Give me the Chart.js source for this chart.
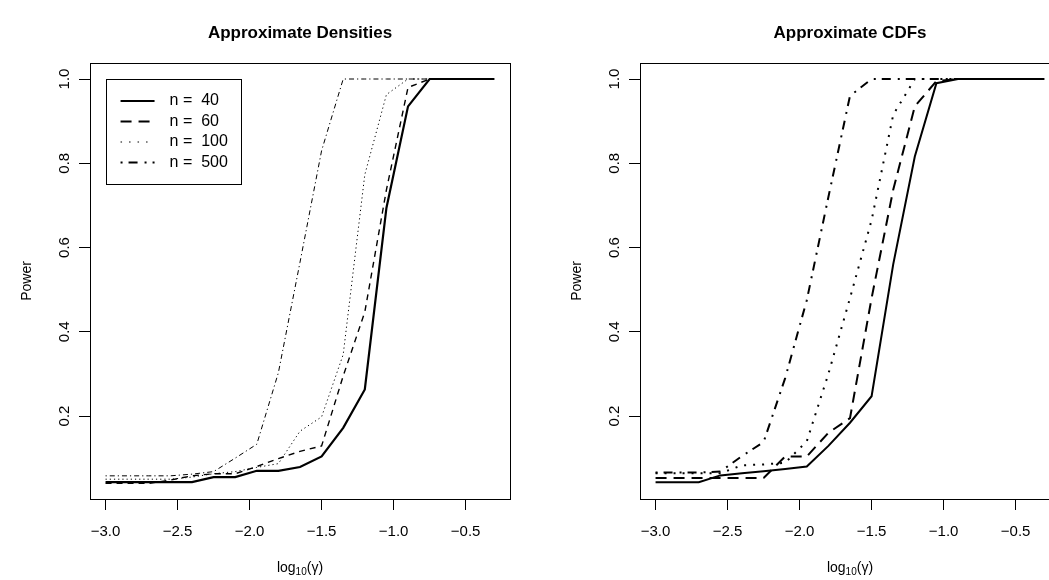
<!DOCTYPE html>
<html>
<head>
<meta charset="utf-8">
<script src="https://cdn.jsdelivr.net/npm/chart.js@4.4.1/dist/chart.umd.min.js"></script>
<style>
  html, body { margin: 0; padding: 0; background: #fff; overflow: hidden; }
  body { width: 1049px; height: 580px; position: relative; }
  .panel { position: absolute; top: 0; width: 550px; height: 580px; }
  #izq { left: 0; }
  #der { left: 550px; }
</style>
</head>
<body>
<div class="panel" id="izq"><canvas id="densidades" width="550" height="580"></canvas></div>
<div class="panel" id="der"><canvas id="cdfs" width="550" height="580"></canvas></div>
<script>
// log10(gamma) grid shared by both panels
const logGamma = [-3, -2.85, -2.7, -2.55, -2.4, -2.25, -2.1, -1.95, -1.8, -1.65,
                  -1.5, -1.35, -1.2, -1.05, -0.9, -0.75, -0.6, -0.45, -0.3];
const xTicks = [-3, -2.5, -2, -1.5, -1, -0.5];
const yTicks = [0.2, 0.4, 0.6, 0.8, 1.0];
const sampleSizes = [40, 60, 100, 500];

// power, approximate densities
const densN40  = [0.043, 0.043, 0.043, 0.043, 0.043, 0.055, 0.055, 0.070, 0.070, 0.079, 0.104, 0.172, 0.263, 0.694, 0.935, 1, 1, 1, 1];
const densN60  = [0.040, 0.040, 0.040, 0.048, 0.058, 0.063, 0.063, 0.080, 0.099, 0.116, 0.129, 0.295, 0.447, 0.737, 0.980, 1, 1, 1, 1];
const densN100 = [0.050, 0.050, 0.050, 0.050, 0.055, 0.063, 0.068, 0.078, 0.087, 0.164, 0.198, 0.346, 0.773, 0.963, 1, 1, 1, 1, 1];
const densN500 = [0.058, 0.058, 0.058, 0.058, 0.062, 0.068, 0.100, 0.133, 0.303, 0.565, 0.830, 1, 1, 1, 1, 1, 1, 1, 1];

// power, approximate CDFs
const cdfN40  = [0.043, 0.043, 0.043, 0.059, 0.064, 0.069, 0.074, 0.080, 0.129, 0.184, 0.247, 0.560, 0.816, 0.990, 1, 1, 1, 1, 1];
const cdfN60  = [0.053, 0.053, 0.053, 0.053, 0.053, 0.053, 0.104, 0.104, 0.160, 0.195, 0.480, 0.737, 0.935, 0.995, 1, 1, 1, 1, 1];
const cdfN100 = [0.064, 0.064, 0.064, 0.064, 0.083, 0.085, 0.089, 0.140, 0.300, 0.480, 0.665, 0.915, 1, 1, 1, 1, 1, 1, 1];
const cdfN500 = [0.066, 0.066, 0.066, 0.068, 0.105, 0.138, 0.290, 0.475, 0.720, 0.960, 1, 1, 1, 1, 1, 1, 1, 1, 1];

const FUENTE = '"Liberation Sans", Arial, Helvetica, sans-serif';

function puntos(valores) {
  return logGamma.map((x, i) => ({ x: x, y: valores[i] }));
}

function serie(valores, n, ancho, guiones) {
  return {
    label: 'n =  ' + n,
    data: puntos(valores),
    borderColor: '#000',
    borderWidth: ancho,
    borderDash: guiones,
    pointRadius: 0,
    tension: 0,
    fill: false
  };
}

// estilos de la leyenda: solido, guiones, puntos, punto-raya
const estiloLeyenda = [
  { ancho: 2, guiones: [] },
  { ancho: 2, guiones: [11, 7] },
  { ancho: 1, guiones: [1.5, 7] },
  { ancho: 2, guiones: [2, 6, 9, 7] }
];

// marco tipo R: caja, etiquetas del eje y giradas, titulos y leyenda
const marcoR = {
  id: 'marcoR',
  afterDraw(chart, args, opts) {
    const ctx = chart.ctx;
    const area = chart.chartArea;
    const sx = chart.scales.x;
    const sy = chart.scales.y;
    ctx.save();
    ctx.strokeStyle = '#000';
    ctx.fillStyle = '#000';
    ctx.lineWidth = 1;
    ctx.setLineDash([]);
    ctx.strokeRect(area.left + 0.5, area.top + 0.5, area.right - area.left, area.bottom - area.top);

    // etiquetas del eje y, verticales como en R
    ctx.font = '15px ' + FUENTE;
    ctx.textAlign = 'center';
    ctx.textBaseline = 'middle';
    sy.ticks.forEach(t => {
      const y = sy.getPixelForValue(t.value);
      ctx.save();
      ctx.translate(area.left - 25, y);
      ctx.rotate(-Math.PI / 2);
      ctx.fillText(t.value.toFixed(1), 0, 0);
      ctx.restore();
    });

    // titulo del eje y
    ctx.save();
    ctx.font = '14px ' + FUENTE;
    ctx.translate(area.left - 63, (area.top + area.bottom) / 2);
    ctx.rotate(-Math.PI / 2);
    ctx.fillText('Power', 0, 0);
    ctx.restore();

    // titulo del eje x: log10(gamma) con subindice
    const cx = (area.left + area.right) / 2;
    const yx = 568;
    ctx.font = '14px ' + FUENTE;
    const wLog = ctx.measureText('log').width;
    const wPar = ctx.measureText('(γ)').width;
    ctx.font = '10px ' + FUENTE;
    const wSub = ctx.measureText('10').width;
    let x0 = cx - (wLog + wSub + wPar) / 2;
    ctx.textAlign = 'left';
    ctx.font = '14px ' + FUENTE;
    ctx.fillText('log', x0, yx);
    ctx.font = '10px ' + FUENTE;
    ctx.fillText('10', x0 + wLog, yx + 4);
    ctx.font = '14px ' + FUENTE;
    ctx.fillText('(γ)', x0 + wLog + wSub, yx);

    // titulo principal
    ctx.textAlign = 'center';
    ctx.font = 'bold 17px ' + FUENTE;
    ctx.fillText(opts.titulo, cx, 33);

    if (opts.leyenda) {
      const lx = sx.getPixelForValue(-3);
      const ly = sy.getPixelForValue(1);
      ctx.lineWidth = 1;
      ctx.strokeRect(Math.round(lx) + 0.5, Math.round(ly) + 0.5, 135, 105);
      ctx.font = '16px ' + FUENTE;
      ctx.textAlign = 'left';
      sampleSizes.forEach((n, i) => {
        const fy = ly + 22 + i * 20.5;
        const e = estiloLeyenda[i];
        ctx.beginPath();
        ctx.lineWidth = e.ancho;
        ctx.setLineDash(e.guiones);
        ctx.moveTo(lx + 15, fy);
        ctx.lineTo(lx + 49, fy);
        ctx.stroke();
        ctx.setLineDash([]);
        ctx.fillText('n =  ' + n, lx + 64, fy);
      });
    }
    ctx.restore();
  }
};

function opciones(titulo, leyenda) {
  return {
    responsive: false,
    animation: false,
    layout: { padding: { left: 0, top: 63, right: 40, bottom: 0 } },
    plugins: {
      legend: { display: false },
      tooltip: { enabled: false },
      marcoR: { titulo: titulo, leyenda: leyenda }
    },
    scales: {
      x: {
        type: 'linear',
        min: -3.108,
        max: -0.192,
        afterBuildTicks: s => { s.ticks = xTicks.map(v => ({ value: v })); },
        afterFit: s => { s.height = 81; },
        grid: { drawOnChartArea: false, drawTicks: true, tickLength: 11, tickColor: '#000' },
        border: { display: true, color: '#000' },
        ticks: {
          color: '#000',
          padding: 13,
          maxRotation: 0,
          font: { family: FUENTE, size: 15 },
          callback: v => v.toFixed(1).replace('-', '\u2212')
        }
      },
      y: {
        type: 'linear',
        min: 0.003,
        max: 1.038,
        afterBuildTicks: s => { s.ticks = yTicks.map(v => ({ value: v })); },
        afterFit: s => { s.width = 90; },
        grid: { drawOnChartArea: false, drawTicks: true, tickLength: 11, tickColor: '#000' },
        border: { display: true, color: '#000' },
        ticks: { display: false }
      }
    }
  };
}

new Chart(document.getElementById('densidades'), {
  type: 'line',
  data: {
    datasets: [
      serie(densN40, 40, 2.2, []),
      serie(densN60, 60, 1.4, [6, 5]),
      serie(densN100, 100, 1, [1.2, 3]),
      serie(densN500, 500, 1, [1.2, 3, 5, 3])
    ]
  },
  options: opciones('Approximate Densities', true),
  plugins: [marcoR]
});

new Chart(document.getElementById('cdfs'), {
  type: 'line',
  data: {
    datasets: [
      serie(cdfN40, 40, 2, []),
      serie(cdfN60, 60, 2, [11, 7]),
      serie(cdfN100, 100, 2, [2, 7]),
      serie(cdfN500, 500, 2, [2, 6, 9, 7])
    ]
  },
  options: opciones('Approximate CDFs', false),
  plugins: [marcoR]
});
</script>
</body>
</html>
